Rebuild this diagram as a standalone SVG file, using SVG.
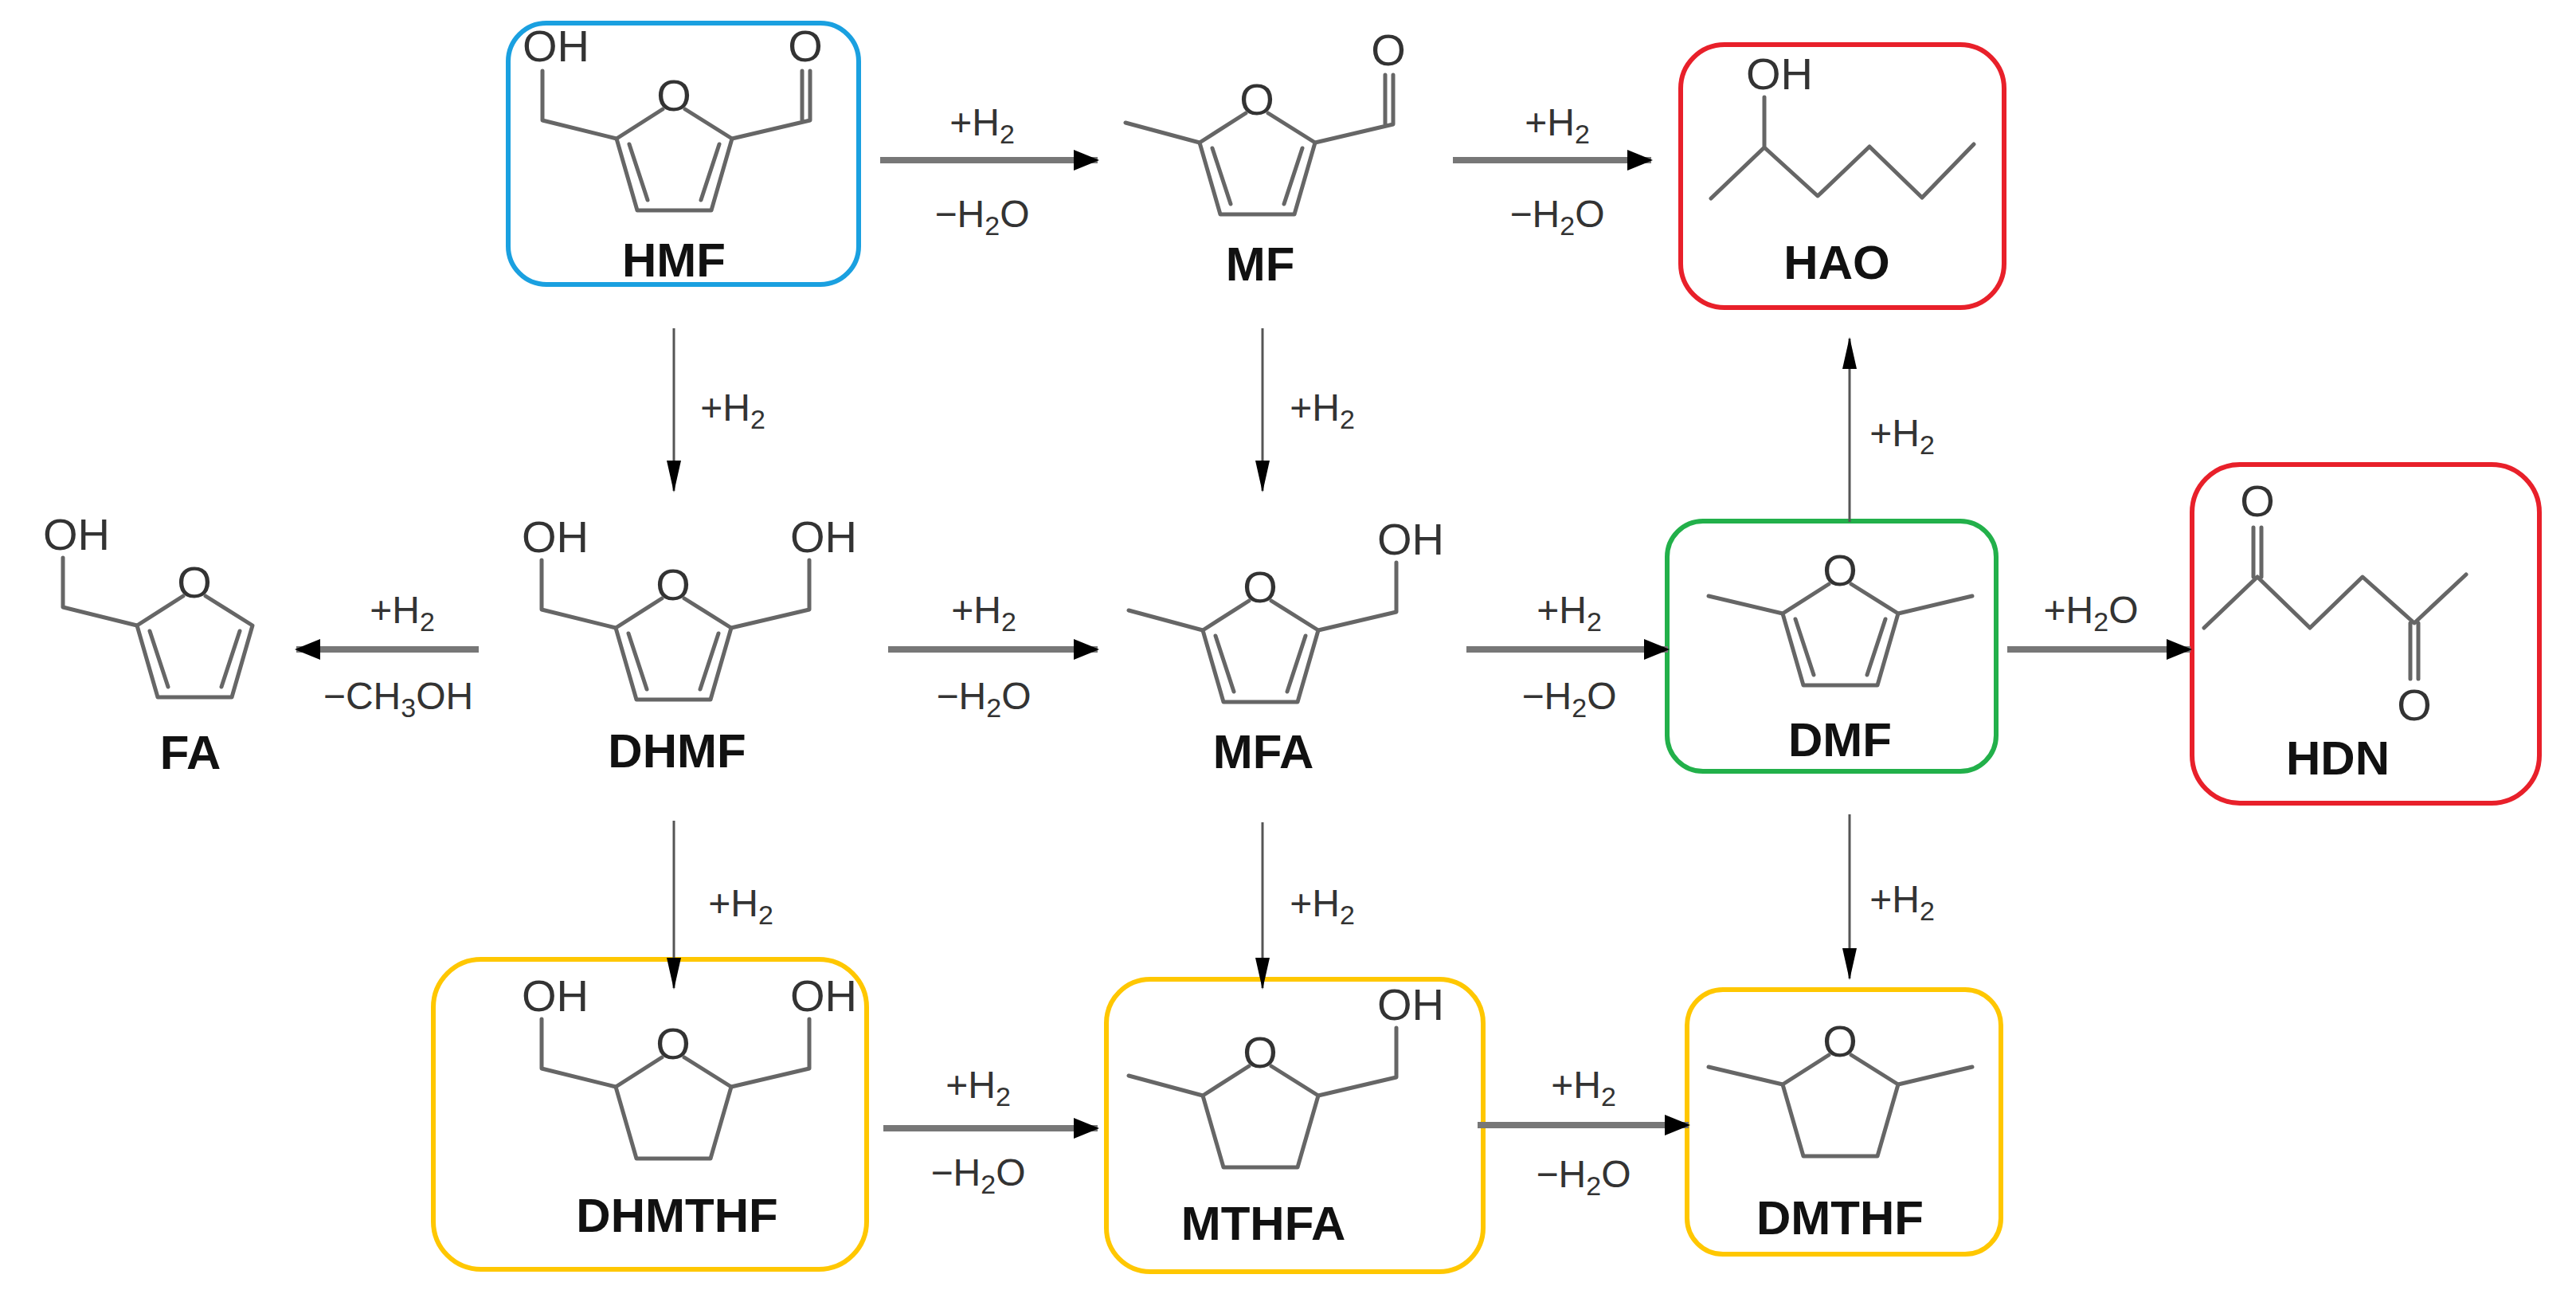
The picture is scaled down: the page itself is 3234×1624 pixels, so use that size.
<svg xmlns="http://www.w3.org/2000/svg" width="3234" height="1624" viewBox="0 0 3234 1624">
<style>
.b{fill:none;stroke:#666;stroke-width:5;stroke-linejoin:round;stroke-linecap:round}
.at{font-family:"Liberation Sans",Arial,sans-serif;font-size:56px;fill:#333;text-anchor:middle;dominant-baseline:central}
.as{font-family:"Liberation Sans",Arial,sans-serif;font-size:56px;fill:#333;dominant-baseline:central}
.lb{font-family:"Liberation Sans",Arial,sans-serif;font-size:60px;font-weight:bold;fill:#111;text-anchor:middle}
.rl{font-family:"Liberation Sans",Arial,sans-serif;font-size:48px;fill:#333;text-anchor:middle}
.box{fill:none;stroke-width:6}
.th{stroke:#777;stroke-width:8;fill:none}
.tn{stroke:#555;stroke-width:3;fill:none}
</style>
<defs>
<marker id="hk" markerUnits="userSpaceOnUse" markerWidth="32" markerHeight="26" refX="30" refY="13" orient="auto"><path d="M0,0 L32,13 L0,26 Z" fill="#000"/></marker>
<marker id="hn" markerUnits="userSpaceOnUse" markerWidth="40" markerHeight="18" refX="38" refY="9" orient="auto"><path d="M0,0 L40,9 L0,18 Z" fill="#000"/></marker>
<g id="thf"><text class="at" x="0" y="0">O</text><path class="b" d="M-14,18 L-72,55 L-46,145 L47,145 L73,55 L14,18"/></g>
<g id="fur"><use href="#thf"/><path class="b" d="M-56,62 L-33,132 M57,62 L34,132"/></g>
</defs>

<g id="HMF" transform="translate(846,119)">
<rect class="box" stroke="#1aa0e0" x="-208" y="-90" width="440" height="328" rx="48"/>
<use href="#fur"/>
<path class="b" d="M-72,55 L-165,32 L-165,-30 M73,55 L171,32 L171,-30 M161,32 L161,-30"/>
<text class="as" x="-190" y="-62">OH</text>
<text class="at" x="165" y="-62">O</text>
<text class="lb" x="0" y="228">HMF</text>
</g>
<g id="MF" transform="translate(1578,124)">
<use href="#fur"/>
<path class="b" d="M-72,55 L-165,30 M73,55 L171,32 L171,-30 M161,32 L161,-30"/>
<text class="at" x="165" y="-62">O</text>
<text class="lb" x="4" y="228">MF</text>
</g>
<g id="HAO">
<rect class="box" stroke="#e8202a" x="2110" y="56" width="406" height="330" rx="55"/>
<path class="b" d="M2148,249 L2215,185 L2282,246 L2347,184 L2413,248 L2478,181 M2215,185 L2215,122"/>
<text class="as" x="2192" y="92">OH</text>
<text class="lb" x="2306" y="350">HAO</text>
</g>
<g id="FA" transform="translate(244,730)">
<use href="#fur"/>
<path class="b" d="M-72,55 L-165,32 L-165,-30 M73,55"/>
<text class="as" x="-190" y="-60">OH</text>
<text class="lb" x="-5" y="235">FA</text>
</g>
<g id="DHMF" transform="translate(845,733)">
<use href="#fur"/>
<path class="b" d="M-72,55 L-165,32 L-165,-30 M73,55 L171,32 L171,-30"/>
<text class="as" x="-190" y="-60">OH</text>
<text class="as" x="147" y="-60">OH</text>
<text class="lb" x="5" y="230">DHMF</text>
</g>
<g id="MFA" transform="translate(1582,736)">
<use href="#fur"/>
<path class="b" d="M-72,55 L-165,30 M73,55 L171,32 L171,-30"/>
<text class="as" x="147" y="-60">OH</text>
<text class="lb" x="4" y="228">MFA</text>
</g>
<g id="DMF" transform="translate(2310,715)">
<rect class="box" stroke="#22b04a" x="-217" y="-61" width="413" height="314" rx="45"/>
<use href="#fur"/>
<path class="b" d="M-72,55 L-165,33 M73,55 L166,33"/>
<text class="lb" x="0" y="234">DMF</text>
</g>
<g id="HDN">
<rect class="box" stroke="#e8202a" x="2752" y="583" width="436" height="425" rx="60"/>
<path class="b" d="M2767,788 L2834,724 L2900,788 L2966,724 L3031,782 L3096,721 M2829,724 L2829,662 M2839,724 L2839,662 M3026,782 L3026,852 M3036,782 L3036,852"/>
<text class="at" x="2834" y="628">O</text>
<text class="at" x="3031" y="884">O</text>
<text class="lb" x="2935" y="972">HDN</text>
</g>
<g id="DHMTHF" transform="translate(845,1309)">
<rect class="box" stroke="#ffc700" x="-301" y="-105" width="544" height="389" rx="60"/>
<use href="#thf"/>
<path class="b" d="M-72,55 L-165,32 L-165,-30 M73,55 L171,32 L171,-30"/>
<text class="as" x="-190" y="-60">OH</text>
<text class="as" x="147" y="-60">OH</text>
<text class="lb" x="5" y="237">DHMTHF</text>
</g>
<g id="MTHFA" transform="translate(1582,1320)">
<rect class="box" stroke="#ffc700" x="-193" y="-91" width="473" height="367" rx="55"/>
<use href="#thf"/>
<path class="b" d="M-72,55 L-165,30 M73,55 L171,32 L171,-30"/>
<text class="as" x="147" y="-60">OH</text>
<text class="lb" x="4" y="236">MTHFA</text>
</g>
<g id="DMTHF" transform="translate(2310,1306)">
<rect class="box" stroke="#ffc700" x="-192" y="-64" width="394" height="332" rx="45"/>
<use href="#thf"/>
<path class="b" d="M-72,55 L-165,33 M73,55 L166,33"/>
<text class="lb" x="0" y="243">DMTHF</text>
</g>

<g id="connectors">
<path class="th" d="M1105,201 L1378,201" marker-end="url(#hk)"/>
<path class="th" d="M1824,201 L2073,201" marker-end="url(#hk)"/>
<path class="tn" d="M846,412 L846,616" marker-end="url(#hn)"/>
<path class="tn" d="M1585,412 L1585,616" marker-end="url(#hn)"/>
<path class="th" d="M601,815 L372,815" marker-end="url(#hk)"/>
<path class="th" d="M1115,815 L1378,815" marker-end="url(#hk)"/>
<path class="th" d="M1841,815 L2094,815" marker-end="url(#hk)"/>
<path class="th" d="M2520,815 L2750,815" marker-end="url(#hk)"/>
<path class="tn" d="M2322,655 L2322,425" marker-end="url(#hn)"/>
<path class="tn" d="M846,1030 L846,1240" marker-end="url(#hn)"/>
<path class="tn" d="M1585,1032 L1585,1240" marker-end="url(#hn)"/>
<path class="tn" d="M2322,1022 L2322,1228" marker-end="url(#hn)"/>
<path class="th" d="M1109,1416 L1378,1416" marker-end="url(#hk)"/>
<path class="th" d="M1855,1412 L2120,1412" marker-end="url(#hk)"/>
<g class="rl">
<text x="1233" y="170">+H<tspan font-size="34" dy="10">2</tspan></text>
<text x="1233" y="285">−H<tspan font-size="34" dy="10">2</tspan><tspan dy="-10">O</tspan></text>
<text x="1955" y="170">+H<tspan font-size="34" dy="10">2</tspan></text>
<text x="1955" y="285">−H<tspan font-size="34" dy="10">2</tspan><tspan dy="-10">O</tspan></text>
<text x="920" y="528">+H<tspan font-size="34" dy="10">2</tspan></text>
<text x="1660" y="528">+H<tspan font-size="34" dy="10">2</tspan></text>
<text x="505" y="782">+H<tspan font-size="34" dy="10">2</tspan></text>
<text x="500" y="890">−CH<tspan font-size="34" dy="10">3</tspan><tspan dy="-10">OH</tspan></text>
<text x="1235" y="782">+H<tspan font-size="34" dy="10">2</tspan></text>
<text x="1235" y="890">−H<tspan font-size="34" dy="10">2</tspan><tspan dy="-10">O</tspan></text>
<text x="1970" y="782">+H<tspan font-size="34" dy="10">2</tspan></text>
<text x="1970" y="890">−H<tspan font-size="34" dy="10">2</tspan><tspan dy="-10">O</tspan></text>
<text x="2625" y="782">+H<tspan font-size="34" dy="10">2</tspan><tspan dy="-10">O</tspan></text>
<text x="2388" y="560">+H<tspan font-size="34" dy="10">2</tspan></text>
<text x="930" y="1150">+H<tspan font-size="34" dy="10">2</tspan></text>
<text x="1660" y="1150">+H<tspan font-size="34" dy="10">2</tspan></text>
<text x="2388" y="1145">+H<tspan font-size="34" dy="10">2</tspan></text>
<text x="1228" y="1378">+H<tspan font-size="34" dy="10">2</tspan></text>
<text x="1228" y="1488">−H<tspan font-size="34" dy="10">2</tspan><tspan dy="-10">O</tspan></text>
<text x="1988" y="1378">+H<tspan font-size="34" dy="10">2</tspan></text>
<text x="1988" y="1490">−H<tspan font-size="34" dy="10">2</tspan><tspan dy="-10">O</tspan></text>
</g>
</g>
</svg>
